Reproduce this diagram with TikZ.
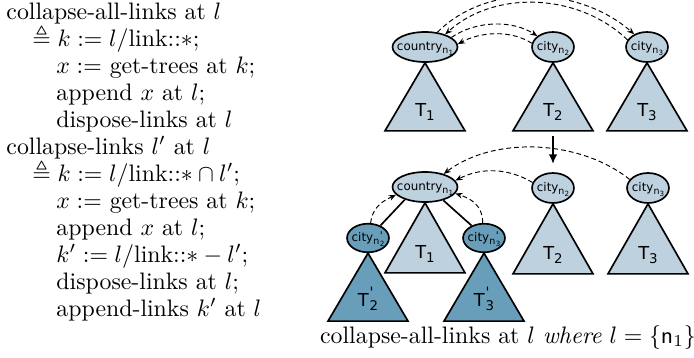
\documentclass[tikz,border=0pt]{standalone}
\usepackage{amsmath}
\usepackage{amssymb}
\usepackage{fontspec}
\usetikzlibrary{arrows.meta,shapes.geometric}
\newfontfamily\dvsans{DejaVu Sans}
\definecolor{lightnode}{RGB}{190,209,223}
\definecolor{darknode}{RGB}{104,158,186}
\newcommand{\ctr}[1]{\raisebox{-0.5ex}[0pt][0pt]{\makebox[0pt]{#1}}}
\newcommand{\nsub}[2]{\ctr{#1\raisebox{-0.5ex}{\fontsize{4}{4}\selectfont n\raisebox{-0.4ex}{\fontsize{3}{3}\selectfont #2}}}}
\newcommand{\nsubp}[2]{\ctr{#1\raisebox{-0.5ex}{\fontsize{4}{4}\selectfont n\kern0.2pt\rlap{\raisebox{0.9ex}{\fontsize{4.5}{4}\selectfont '}}\raisebox{-0.4ex}{\fontsize{3}{3}\selectfont #2}}}}
\newcommand{\tsub}[1]{T\raisebox{-0.45ex}{\fontsize{5.6}{6}\selectfont #1}}
\newcommand{\tsubp}[1]{T\kern0.4pt\rlap{\raisebox{0.9ex}{\fontsize{6}{6}\selectfont '}}\raisebox{-0.45ex}{\fontsize{5.6}{6}\selectfont #1}}

\begin{document}
\begin{tikzpicture}[x=0.42pt, y=-0.42pt, >=Stealth, every node/.style={align=center},
    code/.style={anchor=base west, inner sep=0pt},
    cityell/.style={draw, ellipse, line width=0.7pt, inner sep=0pt, minimum width=17.6pt, minimum height=12.6pt,
      fill=lightnode, font=\dvsans\fontsize{5}{5}\selectfont},
    countryell/.style={cityell, minimum width=27.3pt},
    darkell/.style={cityell, fill=darknode, minimum height=12pt},
    tree/.style={draw, line width=0.7pt, line join=miter, fill=lightnode},
    darktree/.style={tree, fill=darknode},
    tlab/.style={inner sep=0pt, font=\dvsans\fontsize{7.5}{8}\selectfont},
    link/.style={->, line width=0.4pt, dash pattern=on 2pt off 1.3pt, -{Stealth[length=3pt,width=2.4pt]}},
    edge/.style={line width=0.7pt},
    step arrow/.style={line width=1pt, -{Latex[length=4pt,width=3.6pt]}}]
    \useasboundingbox (0,0) rectangle (694,357);
    \node[code] (d1) at (6,19) {collapse-all-links at $l$};
    \node[code] (d2) at (32,46) {$\triangleq k := l/\text{link::}{\ast};$};
    \node[code] (d3) at (56,73) {$x :=$ get-trees at $k$;};
    \node[code] (d4) at (56,100) {append $x$ at $l$;};
    \node[code] (d5) at (56,127) {dispose-links at $l$};
    \node[code] (d6) at (6,154) {collapse-links $l'$ at $l$};
    \node[code] (d7) at (32,181) {$\triangleq k := l/\text{link::}{\ast} \cap l';$};
    \node[code] (d8) at (56,208) {$x :=$ get-trees at $k$;};
    \node[code] (d9) at (56,235) {append $x$ at $l$;};
    \node[code] (d10) at (56,262) {$k' := l/\text{link::}{\ast} - l';$};
    \node[code] (d11) at (56,289) {dispose-links at $l$;};
    \node[code] (d12) at (56,316) {append-links $k'$ at $l$};
    \node[countryell] (ca) at (425,47) {\nsub{country}{1}};
    \node[cityell] (cb) at (553,47) {\nsub{city}{2}};
    \node[cityell] (cc) at (647,47) {\nsub{city}{3}};
    \draw[tree] (ca.south) -- ++(-40,68) -- ++(80,0) -- cycle;
    \draw[tree] (cb.south) -- ++(-40,68) -- ++(80,0) -- cycle;
    \draw[tree] (cc.south) -- ++(-40,68) -- ++(80,0) -- cycle;
    \path (ca.south) ++(0,49) node[tlab] (ta) {\tsub{1}};
    \path (cb.south) ++(0,49) node[tlab] (tb) {\tsub{2}};
    \path (cc.south) ++(0,49) node[tlab] (tc) {\tsub{3}};
    \draw[link] (ca.50) .. controls +(50,-50) and +(-55,-48) .. (cc.135);
    \draw[link] (cc.160) .. controls +(-50,-48) and +(48,-44) .. (ca.32);
    \draw[link] (ca.20) .. controls +(25,-17) and +(-25,-16) .. (cb.145);
    \draw[link] (cb.170) .. controls +(-22,-14) and +(22,-12) .. (ca.5);
    \coordinate (stepa) at (553,136);
    \coordinate (stepb) at (553,164);
    \draw[step arrow] (stepa) -- (stepb);
    \node[countryell] (cA) at (425,187) {\nsub{country}{1}};
    \node[cityell] (cB) at (553,188) {\nsub{city}{2}};
    \node[cityell] (cC) at (648,188) {\nsub{city}{3}};
    \node[darkell] (dB) at (368,238) {\nsubp{city}{2}};
    \node[darkell] (dC) at (484,238) {\nsubp{city}{3}};
    \draw[tree] (cA.south) -- ++(-40,70) -- ++(80,0) -- cycle;
    \draw[tree] (cB.south) -- ++(-40,70) -- ++(80,0) -- cycle;
    \draw[tree] (cC.south) -- ++(-40,70) -- ++(80,0) -- cycle;
    \draw[darktree] (dB.south) -- ++(-40,68) -- ++(80,0) -- cycle;
    \draw[darktree] (dC.south) -- ++(-40,68) -- ++(80,0) -- cycle;
    \path (cA.south) ++(0,51) node[tlab] (tA) {\tsub{1}};
    \path (cB.south) ++(0,51) node[tlab] (tB) {\tsub{2}};
    \path (cC.south) ++(0,51) node[tlab] (tC) {\tsub{3}};
    \path (dB.south) ++(0,46) node[tlab] (tD) {\tsubp{2}};
    \path (dC.south) ++(0,46) node[tlab] (tE) {\tsubp{3}};
    \draw[edge] (cA.212) -- (dB.45);
    \draw[edge] (cA.-36) -- (dC.135);
    \draw[link] (cC.155) .. controls +(-50,-40) and +(50,-38) .. (cA.35);
    \draw[link] (cB.165) .. controls +(-25,-15) and +(25,-13) .. (cA.12);
    \draw[link] (dB.80) .. controls +(2,-18) and +(-10,5) .. (cA.195);
    \draw[link] (dC.95) .. controls +(0,-18) and +(15,5) .. (cA.-12);
    \node[anchor=base, inner sep=0pt] (cap) at (508,343) {collapse-all-links at $l$ \textit{where} $l = \{\mathsf{n}_1\}$};
\end{tikzpicture}
\end{document}
